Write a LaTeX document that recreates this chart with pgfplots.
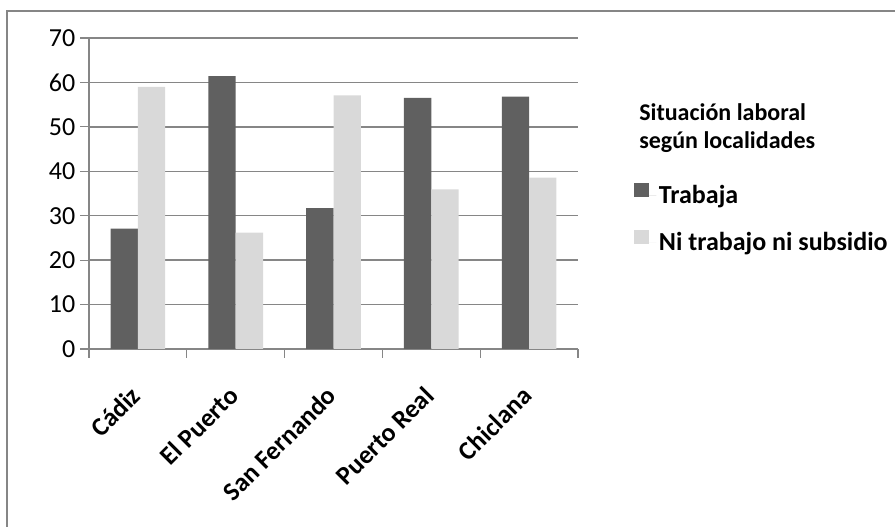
\documentclass[border=0pt]{standalone}
\usepackage{pgfplots}
\pgfplotsset{compat=1.18}
\usepackage{fontspec}
\setmainfont{Carlito}
\definecolor{darkbar}{HTML}{606060}
\definecolor{lightbar}{HTML}{D9D9D9}
\definecolor{gridgray}{HTML}{868686}
\begin{document}
\begin{tikzpicture}[x=1pt,y=1pt]
\path[use as bounding box] (0,0) rectangle (671.25,395.25);
\draw[gridgray, line width=1.5pt] (5.25,-2) -- (5.25,387) -- (675,387);
\begin{axis}[
  at={(66.75pt,133.5pt)}, anchor=south west,
  width=366.75pt, height=233.25pt, scale only axis,
  ybar=0pt, bar width=20.5pt,
  xmin=-0.5, xmax=4.5, ymin=0, ymax=70,
  ytick={0,10,...,70},
  xtick={-0.5,0.5,1.5,2.5,3.5,4.5},
  xticklabels={},
  extra x ticks={0,1,2,3,4},
  extra x tick labels={Cádiz,El Puerto,San Fernando,Puerto Real,Chiclana},
  extra x tick style={major tick length=0pt,
    tick label style={rotate=45, anchor=north east, xshift=-20.1pt, yshift=-10.9pt,
      font=\fontsize{19.5}{22}\selectfont\bfseries}},
  axis x line*=bottom, axis y line*=left,
  axis line style={-, draw=gridgray, line width=0.9pt},
  ymajorgrids, grid style={gridgray, line width=1pt},
  tick align=outside,
  major tick length=6.75pt,
  tick style={gridgray, line width=0.9pt},
  yticklabel style={font=\fontsize{19.5}{22}\selectfont, /pgf/number format/assume math mode=true},
  legend style={at={(axis description cs:1.1145,0.535)}, anchor=north west, draw=none, fill=none,
    font=\fontsize{19.5}{22}\selectfont\bfseries, row sep=16pt, inner sep=0pt},
  legend cell align=left,
  legend image code/.code={\fill[#1] (-1.5pt,-1pt) rectangle (9.75pt,9.5pt); \path (0pt,0pt) -- (15pt,0pt);},
]
\addplot[fill=darkbar, draw=none] coordinates {(0,27.1) (1,61.4) (2,31.7) (3,56.5) (4,56.8)};
\addplot[fill=lightbar, draw=none] coordinates {(0,59.0) (1,26.2) (2,57.1) (3,35.9) (4,38.6)};
\legend{Trabaja, Ni trabajo ni subsidio}
\end{axis}
\node[anchor=base west, align=left, font=\fontsize{18}{21}\selectfont\bfseries, inner sep=0pt] at (479.25,283.5) {Situación laboral\\según localidades};
\end{tikzpicture}
\end{document}
